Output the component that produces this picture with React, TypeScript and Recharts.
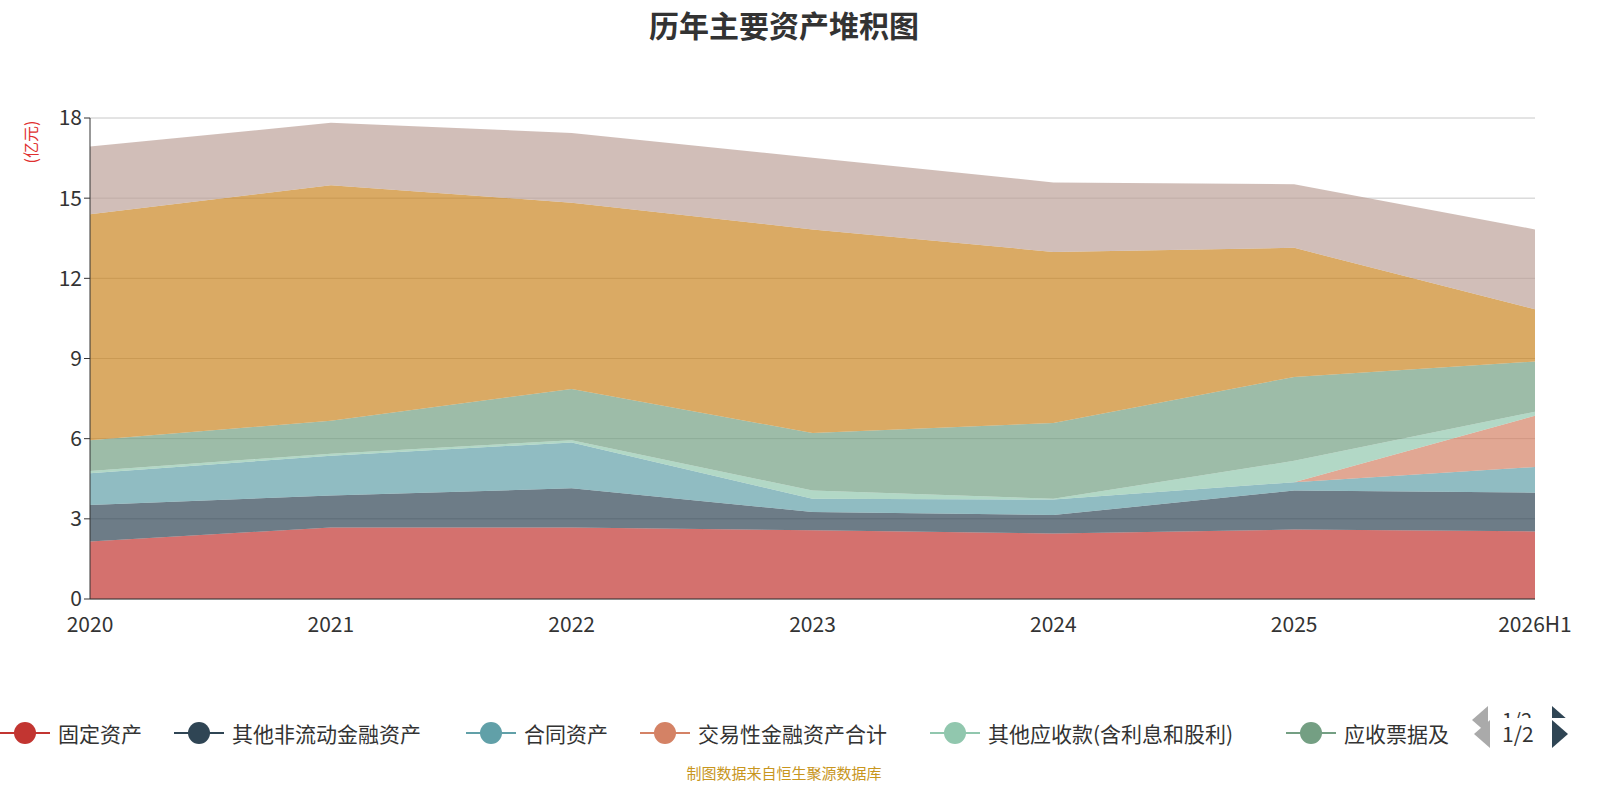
import { AreaChart, Area, XAxis, YAxis, CartesianGrid } from "recharts";

const years = ["2020", "2021", "2022", "2023", "2024", "2025", "2026H1"];
const fixedAssets = [2.15, 2.68, 2.68, 2.57, 2.45, 2.6, 2.53];
const otherNonCurrentFin = [1.37, 1.19, 1.46, 0.69, 0.69, 1.46, 1.45];
const contractAssets = [1.19, 1.49, 1.72, 0.49, 0.58, 0.31, 0.96];
const tradingFin = [0, 0, 0, 0, 0, 0, 1.92];
const otherReceivables = [0.08, 0.08, 0.08, 0.31, 0.03, 0.8, 0.15];
const notesReceivable = [1.15, 1.23, 1.92, 2.15, 2.84, 3.14, 1.88];
const inventory = [8.46, 8.81, 6.97, 7.62, 6.4, 4.83, 1.95];
const cash = [2.53, 2.34, 2.61, 2.68, 2.6, 2.38, 2.99];
const yTicks = [0, 3, 6, 9, 12, 15, 18];

const series = [
  { key: "fixed", name: "固定资产", color: "#c23531", values: fixedAssets },
  { key: "oncf", name: "其他非流动金融资产", color: "#2f4554", values: otherNonCurrentFin },
  { key: "contract", name: "合同资产", color: "#61a0a8", values: contractAssets },
  { key: "trading", name: "交易性金融资产合计", color: "#d48265", values: tradingFin },
  { key: "otherRec", name: "其他应收款(含利息和股利)", color: "#91c7ae", values: otherReceivables },
  { key: "notes", name: "应收票据及应收账款", color: "#749f83", values: notesReceivable },
  { key: "inv", name: "存货", color: "#ca8622", values: inventory },
  { key: "cash", name: "货币资金", color: "#bda29a", values: cash },
];

const data = years.map((y, i) => {
  const row: any = { year: y };
  series.forEach((s) => (row[s.key] = s.values[i]));
  return row;
});

const legendItems = [
  { name: "固定资产", color: "#c23531", x: 0 },
  { name: "其他非流动金融资产", color: "#2f4554", x: 174 },
  { name: "合同资产", color: "#61a0a8", x: 466 },
  { name: "交易性金融资产合计", color: "#d48265", x: 640 },
  { name: "其他应收款(含利息和股利)", color: "#91c7ae", x: 930 },
  { name: "应收票据及", color: "#749f83", x: 1286 },
];

const font = "'Noto Sans CJK SC', 'Noto Sans', sans-serif";

export default function App() {
  return (
    <div style={{ position: "fixed", left: 0, top: 0, width: 1600, height: 800, background: "#fff", fontFamily: font, overflow: "hidden" }}>
      <div style={{ position: "absolute", top: 2, width: 1568, textAlign: "center", fontSize: 30, fontWeight: 700, color: "#333" }}>
        历年主要资产堆积图
      </div>
      <svg style={{ position: "absolute", left: 0, top: 0 }} width={60} height={200}>
        <text x={0} y={0} transform="translate(37,142) rotate(-90)" textAnchor="middle" fontSize={16} fill="#e03030">(亿元)</text>
      </svg>
      <AreaChart width={1600} height={800} data={data} margin={{ top: 118, right: 65, left: 40, bottom: 171 }}>
        <CartesianGrid vertical={false} stroke="#c8c8c8" />
        <XAxis dataKey="year" stroke="#333" tick={{ fill: "#333", fontSize: 21 }} tickLine={false} tickMargin={12} />
        <YAxis domain={[0, 18]} ticks={yTicks} width={50} stroke="#333" tick={{ fill: "#333", fontSize: 21 }} />
        {series.map((s) => (
          <Area key={s.key} type="linear" dataKey={s.key} name={s.name} stackId="1" stroke="none"
            fill={s.color} fillOpacity={0.7} isAnimationActive={false} />
        ))}
      </AreaChart>
      {legendItems.map((l) => (
        <div key={l.name} style={{ position: "absolute", left: l.x, top: 718, display: "flex", alignItems: "center", fontSize: 21, color: "#333" }}>
          <svg width={50} height={30}>
            <line x1={0} y1={15} x2={50} y2={15} stroke={l.color} strokeWidth={2} />
            <circle cx={25} cy={15} r={11} fill={l.color} />
          </svg>
          <span style={{ marginLeft: 8 }}>{l.name}</span>
        </div>
      ))}
      <svg style={{ position: "absolute", left: 1470, top: 704 }} width={130} height={32}>
        <polygon points="18,2 2,16 18,30" fill="#aaa" />
        <text x={32} y={24} fontSize={20} fill="#333">1/2</text>
        <polygon points="82,2 98,16 82,30" fill="#2f4554" />
      </svg>
      <div style={{ position: "absolute", left: 1498, top: 718, width: 102, height: 32, background: "#fff" }} />
      <svg style={{ position: "absolute", left: 1472, top: 718 }} width={128} height={32}>
        <polygon points="18,2 2,16 18,30" fill="#aaa" />
        <text x={30} y={24} fontSize={21} fill="#333">1/2</text>
        <polygon points="80,2 96,16 80,30" fill="#2f4554" />
      </svg>
      <div style={{ position: "absolute", top: 762, width: 1568, textAlign: "center", fontSize: 15, color: "#c8961e" }}>
        制图数据来自恒生聚源数据库
      </div>
    </div>
  );
}
